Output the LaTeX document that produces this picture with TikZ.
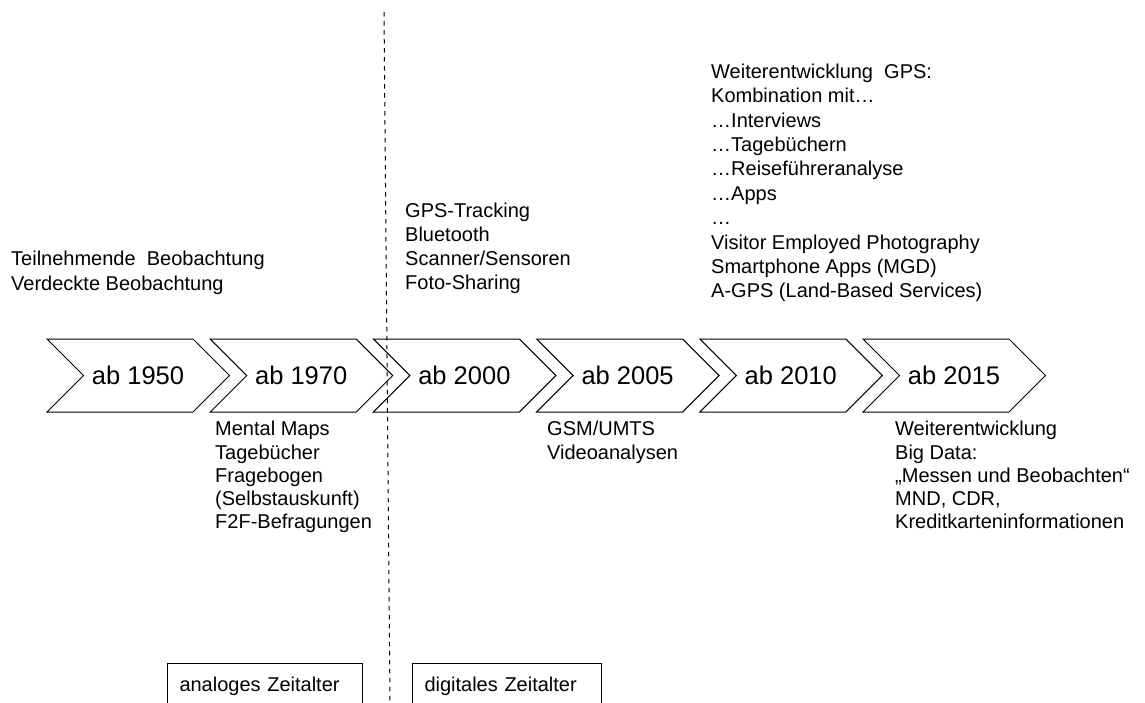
\documentclass[tikz,border=0pt]{standalone}
\usepackage{fontspec}
\setmainfont{Liberation Sans}
\begin{document}
\begin{tikzpicture}[x=1pt,y=-1pt,
  txt/.style={anchor=north west, inner sep=0pt, align=left, font=\fontsize{20}{24.2}\selectfont},
  lowtxt/.style={txt, font=\fontsize{20}{23.3}\selectfont},
  chev/.style={draw=black, line width=1pt, line join=miter},
  year/.style={inner sep=0pt, font=\fontsize{25.5}{30}\selectfont},
  era/.style={draw=black, line width=1pt, anchor=north west, inner xsep=12pt, inner ysep=12pt,
    text height=16pt, text depth=30pt, align=left, font=\fontsize{20}{24}\selectfont},
  sep/.style={draw=black, line width=1pt, dash pattern=on 4.5pt off 4.5pt}]
\useasboundingbox (0,0) rectangle (1145,702);
\clip (0,0) rectangle (1145,702);

% chevrons
\foreach \i/\t in {1/ab 1950,2/ab 1970,3/ab 2000,4/ab 2005,5/ab 2010,6/ab 2015}{
  \pgfmathsetmacro{\L}{47+163.2*(\i-1)}
  \draw[chev] (\L,339) -- (\L+146,339) -- (\L+182.5,375.5) -- (\L+146,412) -- (\L,412) -- (\L+36.5,375.5) -- cycle;
  \node[year] (c\i) at (\L+91,375.5) {\t};
}

% separator
\coordinate (dtop) at (384,12);
\coordinate (dbot) at (390,702);
\draw[sep] (dtop) -- (dbot);

% upper texts
\node[txt, font=\fontsize{20}{25}\selectfont] (t1950) at (11,250.6) {Teilnehmende\ \ Beobachtung\\Verdeckte Beobachtung};
\node[txt, font=\fontsize{20}{24}\selectfont] (t2000) at (405,203) {GPS-Tracking\\Bluetooth\\Scanner/Sensoren\\Foto-Sharing};
\node[txt, font=\fontsize{20}{24.4}\selectfont] (t2010) at (711,63.6) {Weiterentwicklung\ \ GPS:\\Kombination mit…\\…Interviews\\…Tagebüchern\\…Reiseführeranalyse\\…Apps\\…\\Visitor Employed Photography\\Smartphone Apps (MGD)\\A-GPS (Land-Based Services)};

% lower texts
\node[lowtxt] (t1970) at (215,421) {Mental Maps\\Tagebücher\\Fragebogen\\(Selbstauskunft)\\F2F-Befragungen};
\node[lowtxt] (t2005) at (547,421) {GSM/UMTS\\Videoanalysen};
\node[lowtxt] (t2015) at (895,421) {Weiterentwicklung\\Big Data:\\„Messen und Beobachten“\\MND, CDR,\\Kreditkarteninformationen};

% era boxes
\node[era, text width=171pt] (analog) at (167,663) {analoges Zeitalter};
\node[era, text width=165pt] (digital) at (412,663) {digitales Zeitalter};
\end{tikzpicture}
\end{document}
